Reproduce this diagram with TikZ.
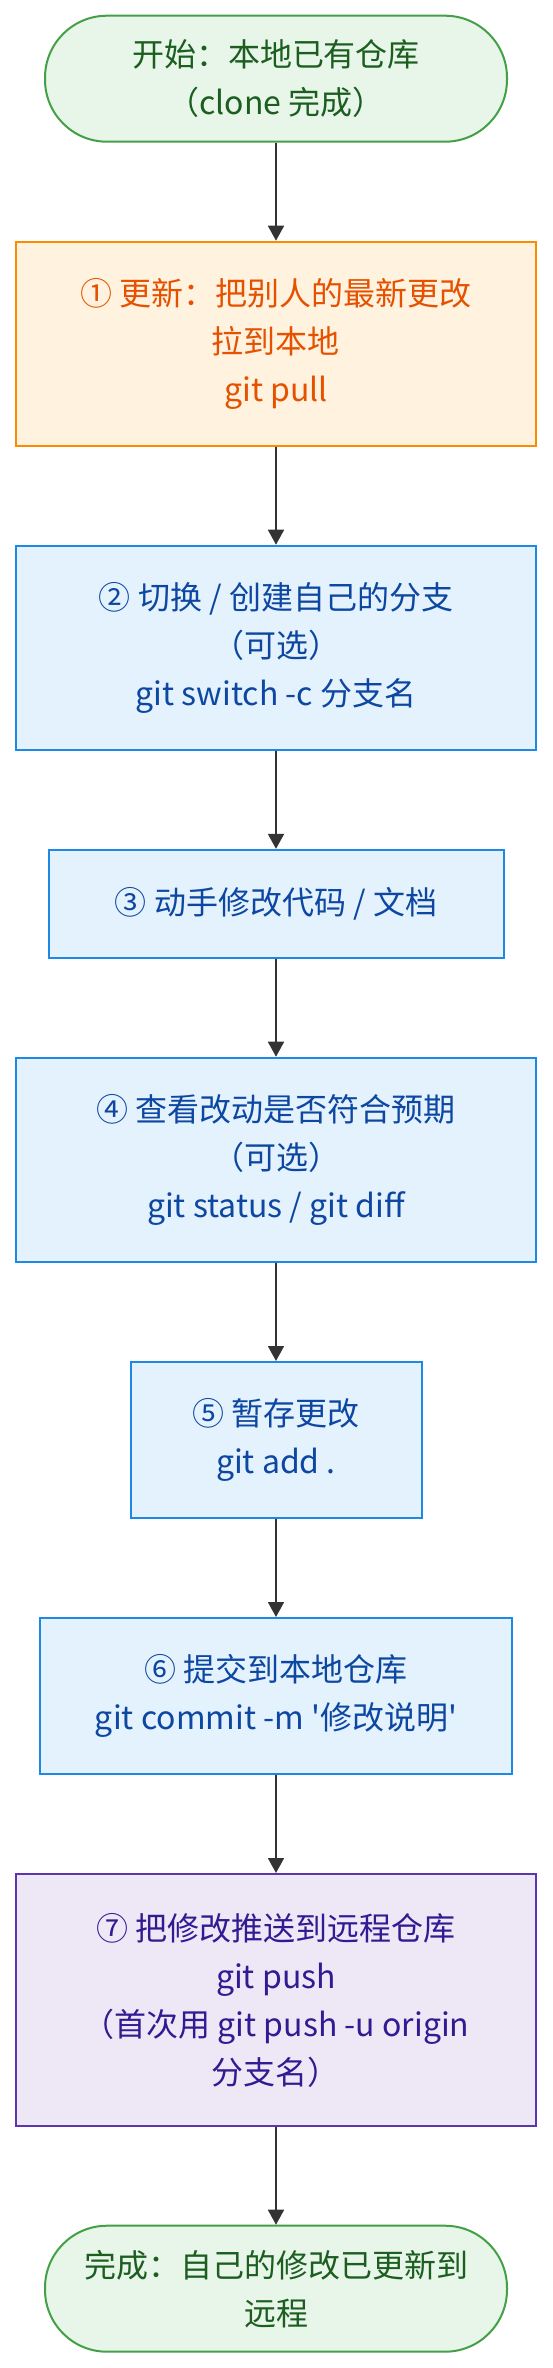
\documentclass[tikz,border=0pt]{standalone}
\usepackage{fontspec}
\setmainfont{Noto Sans CJK SC}
\usetikzlibrary{arrows.meta}
\definecolor{endfill}{HTML}{E8F5E9}
\definecolor{endline}{HTML}{43A047}
\definecolor{endtext}{HTML}{1B5E20}
\definecolor{pullfill}{HTML}{FFF3E0}
\definecolor{pullline}{HTML}{FB8C00}
\definecolor{pulltext}{HTML}{E65100}
\definecolor{workfill}{HTML}{E3F2FD}
\definecolor{workline}{HTML}{1E88E5}
\definecolor{worktext}{HTML}{0D47A1}
\definecolor{pushfill}{HTML}{EDE7F6}
\definecolor{pushline}{HTML}{5E35B1}
\definecolor{pushtext}{HTML}{311B92}
\definecolor{flowgray}{HTML}{333333}
\begin{document}
\begin{tikzpicture}[x=0.5pt,y=-0.5pt,
        >={Triangle[width=8pt,length=7.5pt]},
        flow/.style={->,draw=flowgray,line width=0.9pt},
        endpoint/.style={fill=endfill,draw=endline,text=endtext,rounded corners=31pt,minimum width=231pt,minimum height=63pt},
        pullstep/.style={fill=pullfill,draw=pullline,text=pulltext},
        workstep/.style={fill=workfill,draw=workline,text=worktext},
        pushstep/.style={fill=pushfill,draw=pushline,text=pushtext}]
            \useasboundingbox (0,0) rectangle (552,2368);
            \begin{scope}[every node/.style={draw,line width=1pt,inner sep=0pt,align=center,font=\fontsize{16}{24}\selectfont}]
                \node[endpoint] (start) at (276,78.7) {开始：本地已有仓库\\（clone 完成）};
                \node[pullstep,minimum width=260pt,minimum height=102pt] (pull) at (276,343.7) {① 更新：把别人的最新更改\\拉到本地\\git pull};
                \node[workstep,minimum width=260pt,minimum height=102pt] (branch) at (276,647.7) {② 切换 / 创建自己的分支\\（可选）\\git switch -c 分支名};
                \node[workstep,minimum width=227.5pt,minimum height=54pt] (edit) at (276,903.85) {③ 动手修改代码 / 文档};
                \node[workstep,minimum width=260pt,minimum height=102pt] (check) at (276,1159.7) {④ 查看改动是否符合预期\\（可选）\\git status / git diff};
                \node[workstep,minimum width=145.5pt,minimum height=78pt] (stage) at (276,1440) {⑤ 暂存更改\\git add .};
                \node[workstep,minimum width=236pt,minimum height=78pt] (commit) at (276,1696) {⑥ 提交到本地仓库\\git commit -m \textquotesingle 修改说明\textquotesingle};
                \node[pushstep,minimum width=260pt,minimum height=126pt] (push) at (276,2000) {⑦ 把修改推送到远程仓库\\git push\\（首次用 git push -u origin\\分支名）};
                \node[endpoint] (done) at (276,2288.7) {完成：自己的修改已更新到\\远程};
            \end{scope}
            \draw (start) edge [flow] (pull);
            \draw (pull) edge [flow] (branch);
            \draw (branch) edge [flow] (edit);
            \draw (edit) edge [flow] (check);
            \draw (check) edge [flow] (stage);
            \draw (stage) edge [flow] (commit);
            \draw (commit) edge [flow] (push);
            \draw (push) edge [flow] (done);
        \end{tikzpicture}
\end{document}
